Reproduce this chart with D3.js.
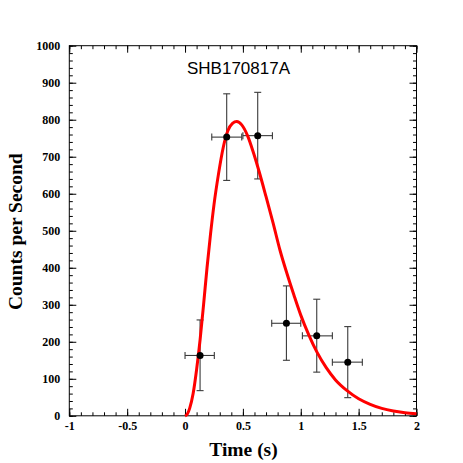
<!DOCTYPE html>
<html><head><meta charset="utf-8">
<script src="https://cdn.jsdelivr.net/npm/d3@7"></script>
<style>
html,body{margin:0;padding:0;background:#fff;}
svg{display:block;}
.tl text{font-family:"Liberation Serif","Times New Roman",serif;font-weight:bold;font-size:12px;fill:#000;}
</style></head>
<body>
<svg id="c" width="463" height="463"></svg>
<script>
// ---- data ----
const title = "SHB170817A";
const xLabel = "Time (s)";
const yLabel = "Counts per Second";
const xTicks = [-1, -0.5, 0, 0.5, 1, 1.5, 2];
const xTickLabels = ["-1", "-0.5", "0", "0.5", "1", "1.5", "2"];
const yTicks = [0, 100, 200, 300, 400, 500, 600, 700, 800, 900, 1000];
// data points: time, counts, x-error low/high, y-error low/high
const ptTime  = [0.13, 0.36, 0.628, 0.876, 1.138, 1.406];
const ptRate  = [163, 753, 757, 250, 216, 145];
const ptXLo   = [0.0, 0.231, 0.50, 0.749, 1.014, 1.273];
const ptXHi   = [0.253, 0.490, 0.755, 1.0, 1.273, 1.532];
const ptYLo   = [68, 636, 640, 150, 118, 49];
const ptYHi   = [259, 870, 874, 351, 315, 241];
// fitted pulse curve
const curveT = [0.0, 0.02, 0.04, 0.07, 0.1, 0.13, 0.16, 0.19, 0.22, 0.25, 0.29, 0.33, 0.37, 0.41, 0.447, 0.49, 0.54, 0.59, 0.64, 0.70, 0.76, 0.82, 0.88, 0.94, 1.0, 1.07, 1.14, 1.22, 1.30, 1.40, 1.50, 1.60, 1.70, 1.80, 1.90, 2.0];
const curveY = [0, 5, 20, 60, 125, 205, 300, 400, 490, 570, 655, 725, 770, 790, 795, 786, 757, 712, 660, 592, 522, 448, 385, 327, 272, 218, 172, 130, 97, 68, 46, 31, 20, 13, 8.5, 5.5];

// ---- layout ----
const svg = d3.select("#c");
const L = 69.3, R = 416.5, T = 45.7, B = 415.8;
const x = d3.scaleLinear().domain([-1, 2]).range([L, R]);
const y = d3.scaleLinear().domain([0, 1000]).range([B, T]);

const g = svg.append("g");

// minor ticks
const xMinor = d3.range(-1, 2.001, 0.1).map(v => +v.toFixed(2));
const yMinor = d3.range(0, 1001, 20);
function addAxis(axisFn, scale, transform, ticks, size, labels) {
  const a = axisFn(scale).tickValues(ticks).tickSizeInner(-size).tickSizeOuter(0);
  if (labels) a.tickFormat((d, i) => labels[i]);
  else a.tickFormat("");
  const sel = g.append("g").attr("class", "tl").attr("transform", transform).call(a);
  sel.select(".domain").remove();
  sel.selectAll("line").attr("stroke", "#000").attr("stroke-width", 1);
  return sel;
}
addAxis(d3.axisBottom, x, `translate(0,${B})`, xMinor, 3.5, null);
addAxis(d3.axisTop, x, `translate(0,${T})`, xMinor, 3.5, null);
addAxis(d3.axisLeft, y, `translate(${L},0)`, yMinor, 3.5, null);
addAxis(d3.axisRight, y, `translate(${R},0)`, yMinor, 3.5, null);
const xb = addAxis(d3.axisBottom, x, `translate(0,${B})`, xTicks, 7, xTickLabels);
xb.selectAll("text").attr("y", 6).attr("dy", "0.71em");
addAxis(d3.axisTop, x, `translate(0,${T})`, xTicks, 7, null);
const yl = addAxis(d3.axisLeft, y, `translate(${L},0)`, yTicks, 7, yTicks.map(String));
yl.selectAll("text").attr("x", -9);
addAxis(d3.axisRight, y, `translate(${R},0)`, yTicks, 7, null);

// frame
g.append("rect").attr("x", L).attr("y", T).attr("width", R - L).attr("height", B - T)
  .attr("fill", "none").attr("stroke", "#000").attr("stroke-width", 1);

// error bars
const eb = g.append("g").attr("stroke", "#3a3a3a").attr("stroke-width", 1.1).attr("fill", "none");
const cap = 3.5;
ptTime.forEach((t, i) => {
  const cx = x(t), cy = y(ptRate[i]);
  eb.append("line").attr("x1", x(ptXLo[i])).attr("x2", x(ptXHi[i])).attr("y1", cy).attr("y2", cy);
  eb.append("line").attr("x1", x(ptXLo[i])).attr("x2", x(ptXLo[i])).attr("y1", cy - cap).attr("y2", cy + cap);
  eb.append("line").attr("x1", x(ptXHi[i])).attr("x2", x(ptXHi[i])).attr("y1", cy - cap).attr("y2", cy + cap);
  eb.append("line").attr("x1", cx).attr("x2", cx).attr("y1", y(ptYLo[i])).attr("y2", y(ptYHi[i]));
  eb.append("line").attr("x1", cx - cap).attr("x2", cx + cap).attr("y1", y(ptYLo[i])).attr("y2", y(ptYLo[i]));
  eb.append("line").attr("x1", cx - cap).attr("x2", cx + cap).attr("y1", y(ptYHi[i])).attr("y2", y(ptYHi[i]));
});

// curve
const line = d3.line().x((d, i) => x(curveT[i])).y((d, i) => y(curveY[i])).curve(d3.curveMonotoneX);
g.append("path").datum(curveT).attr("d", line).attr("fill", "none")
  .attr("stroke", "#ff0000").attr("stroke-width", 3).attr("stroke-linejoin", "round");

// markers
g.append("g").selectAll("circle").data(ptTime).join("circle")
  .attr("cx", d => x(d)).attr("cy", (d, i) => y(ptRate[i])).attr("r", 3.5).attr("fill", "#000");

// title
svg.append("text").attr("x", 238.5).attr("y", 74).attr("text-anchor", "middle")
  .attr("font-family", "Liberation Sans, Arial, sans-serif").attr("font-size", 17).text(title);

// axis titles
svg.append("text").attr("x", 243.5).attr("y", 456).attr("text-anchor", "middle")
  .attr("font-family", "Liberation Serif, Times New Roman, serif").attr("font-weight", "bold")
  .attr("font-size", 19.5).text(xLabel);
svg.append("text").attr("transform", "translate(22,231.7) rotate(-90)").attr("text-anchor", "middle")
  .attr("font-family", "Liberation Serif, Times New Roman, serif").attr("font-weight", "bold")
  .attr("font-size", 19.5).text(yLabel);
</script>
</body></html>
